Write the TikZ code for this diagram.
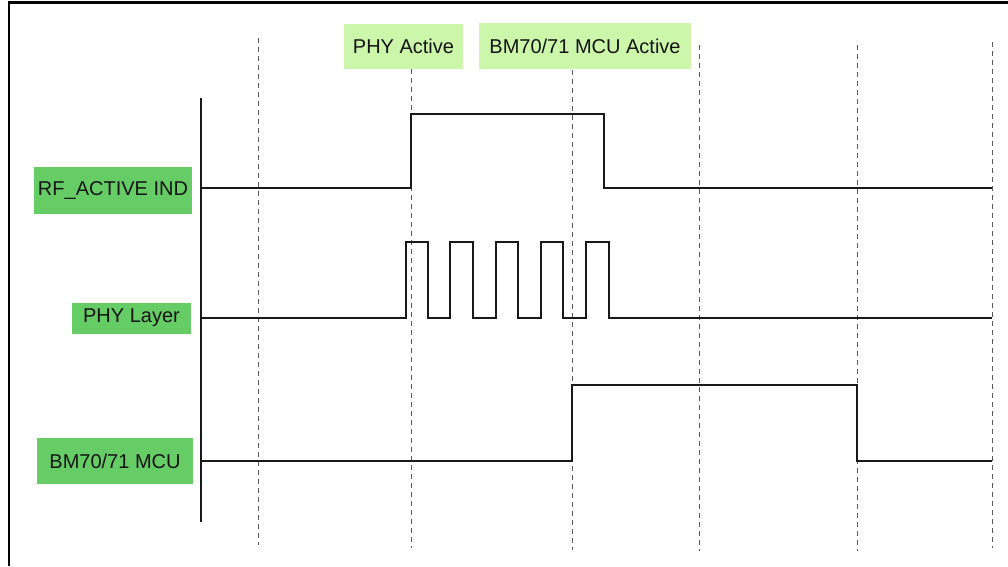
\documentclass[tikz,border=0pt]{standalone}
\usepackage{fontspec}
\setmainfont{Liberation Sans}
\definecolor{darkgreen}{RGB}{102,204,102}
\definecolor{lightgreen}{RGB}{204,246,170}
\definecolor{txt}{RGB}{20,20,20}
\definecolor{dashc}{RGB}{90,90,90}
\definecolor{sig}{RGB}{25,25,25}
\begin{document}
\begin{tikzpicture}[x=1pt,y=-1pt,
  sigbox/.style={fill=darkgreen,draw=none,text=txt,inner sep=0pt,font=\fontsize{20}{22}\selectfont},
  phasebox/.style={fill=lightgreen,draw=none,text=txt,inner sep=0pt,font=\fontsize{20}{22}\selectfont},
  guide/.style={draw=dashc,line width=1pt,dash pattern=on 5pt off 4pt},
  wave/.style={draw=sig,line width=1.7pt,line join=miter},
  frameline/.style={draw=black,line width=2.6pt}]
\useasboundingbox (0,0) rectangle (1008,566);
% frame
\draw[frameline] (9,566) -- (9,2.3) -- (1008,2.3);
% guides
\draw[guide] (258,38) -- (258,545);
\draw[guide] (411,69) -- (411,548);
\draw[guide] (572,70) -- (572,550);
\draw[guide] (699,45) -- (699,551);
\draw[guide] (857,45) -- (857,551);
\draw[guide] (992,42) -- (992,548);
% labels
\node[sigbox,minimum width=158pt,minimum height=47pt] (rf) at (113,190) {RF\_ACTIVE IND};
\node[sigbox,minimum width=119pt,minimum height=31pt] (phy) at (131.5,318) {PHY Layer};
\node[sigbox,minimum width=156pt,minimum height=46pt] (mcu) at (115,461) {BM70/71 MCU};
\node[phasebox,minimum width=119pt,minimum height=45pt] (pa) at (403.5,46) {PHY Active};
\node[phasebox,minimum width=212pt,minimum height=46pt] (ma) at (585,46) {BM70/71 MCU Active};
% axis
\coordinate (axtop) at (201,98);
\coordinate (axbot) at (201,522);
\draw[wave] (axtop) -- (axbot);
% RF_ACTIVE IND
\coordinate (rfs) at (201,188);
\coordinate (rfe) at (992,188);
\draw[wave] (rfs) -- (411,188) -- (411,114) -- (604,114) -- (604,188) -- (rfe);
% PHY Layer
\coordinate (phs) at (201,318);
\coordinate (phe) at (992,318);
\draw[wave] (phs) -- (406,318) -- (406,242) -- (428,242) -- (428,318)
  -- (450,318) -- (450,242) -- (473,242) -- (473,318)
  -- (496,318) -- (496,242) -- (518,242) -- (518,318)
  -- (541,318) -- (541,242) -- (563,242) -- (563,318)
  -- (586,318) -- (586,242) -- (609,242) -- (609,318) -- (phe);
% MCU
\coordinate (mcs) at (201,461);
\coordinate (mce) at (992,461);
\draw[wave] (mcs) -- (572,461) -- (572,385) -- (857,385) -- (857,461) -- (mce);
\end{tikzpicture}
\end{document}
